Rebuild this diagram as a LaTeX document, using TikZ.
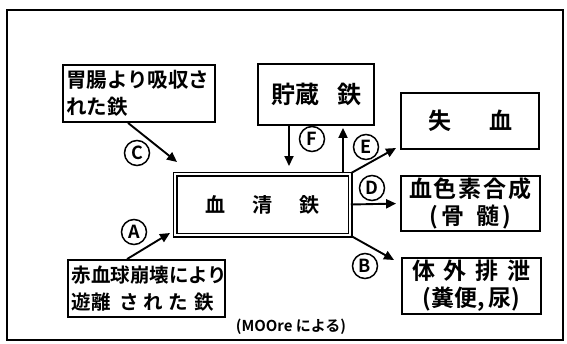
\documentclass[tikz,border=0pt]{standalone}
\usepackage{fontspec}
\newfontfamily\jp{Noto Sans CJK JP}[BoldFont={* Bold}]
\usetikzlibrary{arrows.meta}
\begin{document}
\begin{tikzpicture}[x=1pt,y=-1pt,
  box/.style={draw,line width=1.8pt,inner sep=0pt,font=\jp\bfseries},
  circ/.style={draw,circle,line width=1.5pt,minimum size=25pt,inner sep=0pt,font=\jp\bfseries\fontsize{18}{18}\selectfont},
  arr/.style={line width=1.9pt,-{Triangle[length=10pt,width=9pt]}}]
\useasboundingbox (0,0) rectangle (567,343);
\draw[line width=2.2pt] (7,10) rectangle (563,340);

\node[box,minimum width=152pt,minimum height=57pt,text width=146pt,align=left,
  font=\jp\bfseries\fontsize{20.5}{27}\selectfont] (stomach) at (139,93.5)
  {胃腸より吸収さ\\れた鉄};
\node[box,minimum width=116pt,minimum height=61pt,
  font=\jp\bfseries\fontsize{24}{24}\selectfont] (store) at (316,94.5)
  {貯蔵\hspace{18pt}鉄};
\node[box,minimum width=138pt,minimum height=56pt,
  font=\jp\bfseries\fontsize{23}{23}\selectfont] (loss) at (470,121)
  {失\hspace{38pt}血};
\node[box,double,line width=1.5pt,double distance=2pt,minimum width=175pt,minimum height=61pt,
  font=\jp\bfseries\fontsize{20}{20}\selectfont] (serum) at (262.5,204.5)
  {血\hspace{27pt}清\hspace{27pt}鉄};
\node[box,minimum width=139pt,minimum height=55pt,align=center,
  font=\jp\bfseries\fontsize{23}{27}\selectfont] (hb) at (470.5,203.5)
  {血\hspace{2pt}色\hspace{2pt}素\hspace{2pt}合\hspace{2pt}成\\(\hspace{3pt}骨\hspace{12pt}髄\hspace{3pt})};
\node[box,minimum width=139pt,minimum height=56pt,align=center,
  font=\jp\bfseries\fontsize{23}{27}\selectfont] (excr) at (471.5,286)
  {体\hspace{9pt}外\hspace{9pt}排\hspace{9pt}泄\\(糞便,\hspace{4pt}尿)};
\node[box,minimum width=157pt,minimum height=57pt,text width=150pt,align=left,
  font=\jp\bfseries\fontsize{19.5}{27}\selectfont] (rbc) at (146.5,288.5)
  {赤血球崩壊により\\遊離\hspace{9pt}さ\hspace{5pt}れ\hspace{5pt}た\hspace{7pt}鉄};
\node[font=\jp\bfseries\fontsize{15}{15}\selectfont] (src) at (291,327) {(MOOre による)};

\coordinate (cTip) at (177,162);
\coordinate (aTip) at (170,233);
\coordinate (fTip) at (289,166);
\coordinate (eTip) at (396,148);
\coordinate (bTip) at (394,260);

\draw[arr] ([xshift=-11pt]stomach.south) -- (cTip);
\draw[arr] ([xshift=-19.5pt]rbc.north) -- (aTip);
\draw[arr] ([xshift=-27pt]store.south) -- (fTip);
\draw[arr,shorten >=2pt] ([xshift=80.5pt]serum.north) -- ([xshift=27pt]store.south);
\draw[arr] (serum.north east) -- (eTip);
\draw[arr,shorten >=4pt] (serum.east) -- (hb.west);
\draw[arr] (serum.south east) -- (bTip);

\node[circ] (cC) at (137,153) {C};
\node[circ] (cA) at (134,232) {A};
\node[circ] (cF) at (312,139) {F};
\node[circ] (cE) at (366,147) {E};
\node[circ] (cD) at (372,188) {D};
\node[circ] (cB) at (365,266) {B};
\end{tikzpicture}
\end{document}
